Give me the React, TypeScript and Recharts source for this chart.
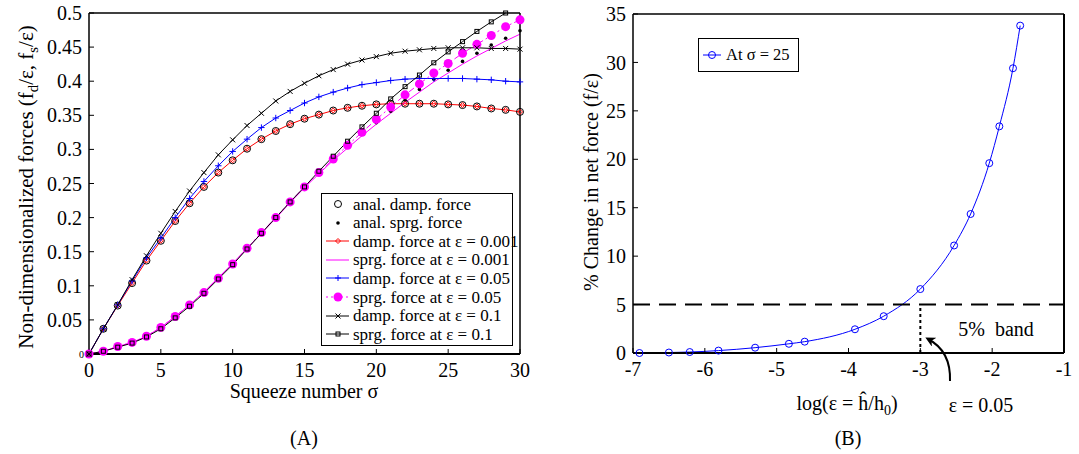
import React from "react";
import { LineChart, Line, XAxis, YAxis, ReferenceLine } from "recharts";

const FONT = '"Liberation Serif", "Times New Roman", serif';

// panel A: squeeze number vs non-dimensional forces
const sigma = [0, 1, 2, 3, 4, 5, 6, 7, 8, 9, 10, 11, 12, 13, 14, 15, 16, 17, 18, 19, 20, 21, 22, 23, 24, 25, 26, 27, 28, 29, 30];
const analDamp = [0, 0.037, 0.071, 0.104, 0.137, 0.166, 0.195, 0.221, 0.245, 0.266, 0.284, 0.301, 0.315, 0.327, 0.337, 0.345, 0.351, 0.357, 0.361, 0.364, 0.366, 0.367, 0.367, 0.367, 0.367, 0.366, 0.365, 0.363, 0.36, 0.358, 0.355];
const analSprg = [0, 0.004, 0.011, 0.017, 0.026, 0.039, 0.055, 0.072, 0.091, 0.112, 0.133, 0.155, 0.177, 0.199, 0.222, 0.244, 0.265, 0.285, 0.304, 0.322, 0.339, 0.356, 0.372, 0.388, 0.403, 0.416, 0.429, 0.441, 0.453, 0.463, 0.474];
const damp001 = [0, 0.037, 0.071, 0.104, 0.137, 0.166, 0.195, 0.221, 0.245, 0.266, 0.284, 0.301, 0.315, 0.327, 0.337, 0.345, 0.351, 0.357, 0.361, 0.364, 0.366, 0.367, 0.367, 0.367, 0.367, 0.366, 0.365, 0.363, 0.36, 0.358, 0.355];
const sprg001 = [0, 0.004, 0.011, 0.017, 0.026, 0.039, 0.055, 0.072, 0.091, 0.112, 0.133, 0.155, 0.177, 0.199, 0.222, 0.244, 0.264, 0.284, 0.302, 0.32, 0.337, 0.353, 0.369, 0.384, 0.399, 0.412, 0.425, 0.437, 0.448, 0.459, 0.469];
const damp005 = [0, 0.037, 0.072, 0.107, 0.141, 0.17, 0.2, 0.228, 0.253, 0.276, 0.297, 0.315, 0.332, 0.346, 0.357, 0.368, 0.377, 0.384, 0.39, 0.395, 0.398, 0.401, 0.403, 0.404, 0.404, 0.404, 0.404, 0.403, 0.402, 0.4, 0.399];
const sprg005 = [0, 0.004, 0.011, 0.017, 0.026, 0.039, 0.055, 0.072, 0.09, 0.111, 0.132, 0.155, 0.178, 0.2, 0.223, 0.245, 0.266, 0.286, 0.306, 0.325, 0.344, 0.362, 0.38, 0.396, 0.412, 0.426, 0.441, 0.454, 0.467, 0.48, 0.49];
const damp01 = [0, 0.037, 0.072, 0.109, 0.144, 0.177, 0.209, 0.239, 0.266, 0.292, 0.314, 0.335, 0.353, 0.371, 0.385, 0.397, 0.408, 0.417, 0.425, 0.431, 0.436, 0.441, 0.444, 0.446, 0.448, 0.449, 0.449, 0.449, 0.448, 0.448, 0.447];
const sprg01 = [0, 0.004, 0.01, 0.016, 0.025, 0.037, 0.053, 0.07, 0.089, 0.11, 0.131, 0.154, 0.177, 0.2, 0.223, 0.245, 0.268, 0.29, 0.312, 0.333, 0.353, 0.374, 0.392, 0.409, 0.427, 0.443, 0.458, 0.473, 0.487, 0.5, null];

const sigmaTicks = [0, 5, 10, 15, 20, 25, 30];
const forceTicks = [0, 0.05, 0.1, 0.15, 0.2, 0.25, 0.3, 0.35, 0.4, 0.45, 0.5];

// panel B: log(eps) vs % change in net force at sigma = 25
const logEps = [-6.91, -6.5, -6.21, -5.81, -5.3, -4.83, -4.61, -3.91, -3.51, -3.0, -2.53, -2.3, -2.04, -1.9, -1.71, -1.61];
const pctChange = [0, 0.05, 0.1, 0.25, 0.55, 0.95, 1.17, 2.45, 3.8, 6.6, 11.1, 14.35, 19.6, 23.4, 29.4, 33.8];
const logTicks = [-7, -6, -5, -4, -3, -2, -1];
const pctTicks = [0, 5, 10, 15, 20, 25, 30, 35];

const dataA = sigma.map((s, i) => ({
  sigma: s,
  analDamp: analDamp[i],
  analSprg: analSprg[i],
  damp001: damp001[i],
  sprg001: sprg001[i],
  damp005: damp005[i],
  sprg005: sprg005[i],
  damp01: damp01[i],
  sprg01: sprg01[i],
}));

const dataB = logEps.map((x, i) => ({ logEps: x, pct: pctChange[i] }));

const Marker = ({ shape, x, y, color, size }: any) => {
  switch (shape) {
    case "circle":
      return <circle cx={x} cy={y} r={size} fill="none" stroke={color} strokeWidth={1} />;
    case "dot":
      return <circle cx={x} cy={y} r={size} fill={color} stroke="none" />;
    case "diamond":
      return (
        <path
          d={`M${x} ${y - size}L${x + size} ${y}L${x} ${y + size}L${x - size} ${y}Z`}
          fill="none"
          stroke={color}
        />
      );
    case "plus":
      return <path d={`M${x - size} ${y}H${x + size}M${x} ${y - size}V${y + size}`} stroke={color} fill="none" />;
    case "cross":
      return (
        <path
          d={`M${x - size} ${y - size}L${x + size} ${y + size}M${x - size} ${y + size}L${x + size} ${y - size}`}
          stroke={color}
          fill="none"
        />
      );
    case "square":
      return <rect x={x - size} y={y - size} width={size * 2} height={size * 2} fill="none" stroke={color} />;
  }
  return null;
};

const dotOf = (shape: string, color: string, size: number) => (p: any) => {
  const k = `${shape}-${color}-${p.index}`;
  if (p.cx == null || p.cy == null || p.value == null || Number.isNaN(p.cy)) return <g key={k} />;
  return (
    <g key={k}>
      <Marker shape={shape} x={p.cx} y={p.cy} color={color} size={size} />
    </g>
  );
};

const tickStyle = { fill: "#000", fontSize: 20, fontFamily: FONT };

const ForceTick = (props: any) => {
  const { x, y, payload } = props;
  const v = payload.value;
  if (v === 0) {
    return (
      <text x={x + 2} y={y} dy={4} textAnchor="end" fontSize={10} fontFamily={FONT} fill="#000">
        0
      </text>
    );
  }
  return (
    <text x={x} y={y} dy={7} textAnchor="end" fontSize={20} fontFamily={FONT} fill="#000">
      {String(v)}
    </text>
  );
};

const PanelA = () => (
  <LineChart width={540} height={454} data={dataA} margin={{ top: 13, right: 20, bottom: 70, left: 0 }}>
    <XAxis
      dataKey="sigma"
      type="number"
      domain={[0, 30]}
      ticks={sigmaTicks}
      interval={0}
      height={30}
      tickSize={-5}
      tickMargin={14}
      tick={tickStyle}
      axisLine={{ stroke: "#000", strokeWidth: 2 }}
      tickLine={{ stroke: "#000" }}
    />
    <XAxis
      xAxisId="top"
      orientation="top"
      dataKey="sigma"
      type="number"
      domain={[0, 30]}
      ticks={sigmaTicks}
      height={1}
      mirror
      tick={false}
      tickSize={5}
      axisLine={{ stroke: "#000", strokeWidth: 1.5 }}
      tickLine={{ stroke: "#000" }}
    />
    <YAxis
      type="number"
      domain={[0, 0.5]}
      ticks={forceTicks}
      interval={0}
      width={89}
      tickSize={-5}
      tickMargin={12}
      tick={<ForceTick />}
      axisLine={{ stroke: "#000", strokeWidth: 1.5 }}
      tickLine={{ stroke: "#000" }}
    />
    <YAxis
      yAxisId="right"
      orientation="right"
      type="number"
      domain={[0, 0.5]}
      ticks={forceTicks}
      width={1}
      mirror
      tick={false}
      tickSize={5}
      axisLine={{ stroke: "#000", strokeWidth: 1.5 }}
      tickLine={{ stroke: "#000" }}
    />
    <Line dataKey="analDamp" stroke="none" dot={dotOf("circle", "#000", 3.5)} activeDot={false} isAnimationActive={false} />
    <Line dataKey="analSprg" stroke="none" dot={dotOf("dot", "#000", 1.8)} activeDot={false} isAnimationActive={false} />
    <Line dataKey="damp001" stroke="#ff0000" strokeWidth={1} dot={dotOf("diamond", "#ff0000", 2.5)} activeDot={false} isAnimationActive={false} />
    <Line dataKey="sprg001" stroke="#ff00ff" strokeWidth={1} dot={false} activeDot={false} isAnimationActive={false} />
    <Line dataKey="damp005" stroke="#0000ff" strokeWidth={1} dot={dotOf("plus", "#0000ff", 3.2)} activeDot={false} isAnimationActive={false} />
    <Line
      dataKey="sprg005"
      stroke="#ff00ff"
      strokeWidth={1}
      strokeDasharray="6 3 2 3"
      dot={dotOf("dot", "#ff00ff", 4.5)}
      activeDot={false}
      isAnimationActive={false}
    />
    <Line dataKey="damp01" stroke="#000" strokeWidth={1} dot={dotOf("cross", "#000", 2.5)} activeDot={false} isAnimationActive={false} />
    <Line dataKey="sprg01" stroke="#000" strokeWidth={1} dot={dotOf("square", "#000", 2)} activeDot={false} isAnimationActive={false} />
  </LineChart>
);

const PanelB = () => (
  <LineChart width={519} height={454} data={dataB} margin={{ top: 14, right: 15, bottom: 71, left: 0 }}>
    <XAxis
      dataKey="logEps"
      type="number"
      domain={[-7, -1]}
      ticks={logTicks}
      interval={0}
      height={30}
      tickSize={-5}
      tickMargin={14}
      tick={tickStyle}
      axisLine={{ stroke: "#000", strokeWidth: 2 }}
      tickLine={{ stroke: "#000" }}
    />
    <XAxis
      xAxisId="top"
      orientation="top"
      dataKey="logEps"
      type="number"
      domain={[-7, -1]}
      ticks={logTicks}
      height={1}
      mirror
      tick={false}
      tickSize={5}
      axisLine={{ stroke: "#000", strokeWidth: 1.5 }}
      tickLine={{ stroke: "#000" }}
    />
    <YAxis
      type="number"
      domain={[0, 35]}
      ticks={pctTicks}
      interval={0}
      width={73}
      tickSize={-5}
      tickMargin={12}
      tick={tickStyle}
      axisLine={{ stroke: "#000", strokeWidth: 1.5 }}
      tickLine={{ stroke: "#000" }}
    />
    <YAxis
      yAxisId="right"
      orientation="right"
      type="number"
      domain={[0, 35]}
      ticks={pctTicks}
      width={1}
      mirror
      tick={false}
      tickSize={5}
      axisLine={{ stroke: "#000", strokeWidth: 2 }}
      tickLine={{ stroke: "#000" }}
    />
    <Line
      dataKey="pct"
      type="monotone"
      stroke="#0000ff"
      strokeWidth={1}
      dot={dotOf("circle", "#0000ff", 3.5)}
      activeDot={false}
      isAnimationActive={false}
    />
    <ReferenceLine y={5} stroke="#000" strokeWidth={2} strokeDasharray="17 9" />
    <ReferenceLine
      segment={[
        { x: -3, y: 0 },
        { x: -3, y: 5 },
      ]}
      stroke="#000"
      strokeWidth={2}
      strokeDasharray="3 3"
    />
  </LineChart>
);

const Label = ({ x, y, size = 20, rotate = false, children }: any) => (
  <div
    style={{
      position: "absolute",
      left: x,
      top: y,
      transform: `translate(-50%, -50%)${rotate ? " rotate(-90deg)" : ""}`,
      fontSize: size,
      whiteSpace: "pre",
      lineHeight: 1,
    }}
  >
    {children}
  </div>
);

const legendA = [
  { shape: "circle", color: "#000", size: 3.5, line: null, text: "anal. damp. force" },
  { shape: "dot", color: "#000", size: 1.8, line: null, text: "anal. sprg. force" },
  { shape: "diamond", color: "#ff0000", size: 2.5, line: "", text: "damp. force at ε = 0.001" },
  { shape: "none", color: "#ff00ff", size: 0, line: "", text: "sprg. force at ε = 0.001" },
  { shape: "plus", color: "#0000ff", size: 3, line: "", text: "damp. force at ε = 0.05" },
  { shape: "dot", color: "#ff00ff", size: 4.5, line: "2 3", text: "sprg. force at ε = 0.05" },
  { shape: "cross", color: "#000", size: 2.5, line: "", text: "damp. force at ε = 0.1" },
  { shape: "square", color: "#000", size: 2, line: "", text: "sprg. force at ε = 0.1" },
];

const LegendA = () => (
  <div
    style={{
      position: "absolute",
      left: 321,
      top: 193,
      width: 190,
      height: 151,
      border: "1.5px solid #000",
      background: "#fff",
    }}
  >
    {legendA.map((e, i) => (
      <div key={i} style={{ position: "absolute", left: 0, top: 1 + i * 18.6, height: 18, display: "flex", alignItems: "center" }}>
        <svg width={31} height={18} style={{ display: "block" }}>
          {e.line != null && (
            <line x1={4} x2={27} y1={9} y2={9} stroke={e.color} strokeWidth={1} strokeDasharray={e.line || undefined} />
          )}
          <Marker shape={e.shape} x={16} y={9} color={e.color} size={e.size} />
        </svg>
        <span style={{ fontSize: 17, whiteSpace: "pre", lineHeight: 1 }}>{e.text}</span>
      </div>
    ))}
  </div>
);

const LegendB = () => (
  <div
    style={{
      position: "absolute",
      left: 698,
      top: 38,
      width: 99,
      height: 32,
      border: "1.5px solid #000",
      background: "#fff",
      display: "flex",
      alignItems: "center",
    }}
  >
    <svg width={27} height={18} style={{ display: "block" }}>
      <line x1={4} x2={22} y1={9} y2={9} stroke="#0000ff" strokeWidth={1} />
      <Marker shape="circle" x={13} y={9} color="#0000ff" size={3.5} />
    </svg>
    <span style={{ fontSize: 16.5, whiteSpace: "pre", lineHeight: 1 }}>At σ = 25</span>
  </div>
);

export default function App() {
  return (
    <div
      style={{
        position: "absolute",
        left: 0,
        top: 0,
        width: 1079,
        height: 454,
        background: "#fff",
        fontFamily: FONT,
        color: "#000",
        overflow: "hidden",
      }}
    >
      <div style={{ position: "absolute", left: 0, top: 0 }}>
        <PanelA />
      </div>
      <div style={{ position: "absolute", left: 560, top: 0 }}>
        <PanelB />
      </div>
      <LegendA />
      <LegendB />

      <Label x={28} y={187} size={21} rotate>
        Non-dimensionalized forces (f<sub style={{ fontSize: "0.7em" }}>d</sub>/ε, f<sub style={{ fontSize: "0.7em" }}>s</sub>/ε)
      </Label>
      <Label x={304} y={391}>Squeeze number σ</Label>
      <Label x={304} y={438}>(A)</Label>

      <Label x={591} y={182} rotate>
        % Change in net force (f/ε)
      </Label>
      <Label x={847} y={405}>
        log(ε = ĥ/h<sub style={{ fontSize: "0.7em" }}>0</sub>)
      </Label>
      <Label x={981} y={405}>ε = 0.05</Label>
      <Label x={848} y={438}>(B)</Label>
      <Label x={996} y={329}>5%  band</Label>

      <svg width={1079} height={454} style={{ position: "absolute", left: 0, top: 0, pointerEvents: "none" }}>
        <defs>
          <marker id="arrowHead" markerWidth={10} markerHeight={10} refX={7} refY={5} orient="auto" markerUnits="userSpaceOnUse">
            <path d="M0 0L10 5L0 10L3 5Z" fill="#000" />
          </marker>
        </defs>
        <path d="M950 381 Q951 351 928 339" fill="none" stroke="#000" strokeWidth={2} markerEnd="url(#arrowHead)" />
      </svg>
    </div>
  );
}
